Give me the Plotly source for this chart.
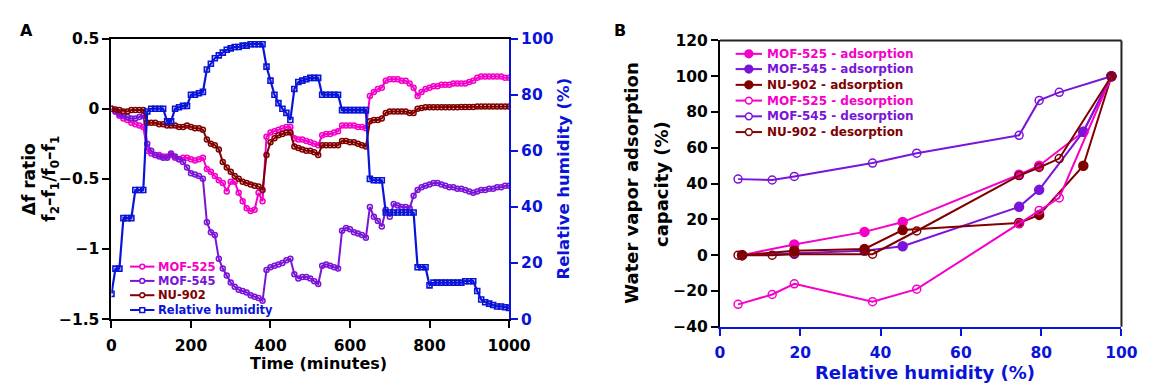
import plotly.graph_objects as go

# reference picture size (used to convert reference pixel positions into paper fractions)
W, H = 1163, 392

# ---------------- Panel A data (10-minute sampling) ----------------
time_min = list(range(0, 1001, 10))

mof525_ratio = [
    0, -0.02, -0.05, -0.07, -0.08, -0.10, -0.11, -0.12, -0.13,
    -0.30, -0.32, -0.33, -0.33, -0.34, -0.34, -0.33, -0.35, -0.36, -0.35, -0.35, -0.36, -0.37, -0.36, -0.35,
    -0.43, -0.45, -0.48, -0.51, -0.53, -0.59, -0.52, -0.52, -0.60, -0.66, -0.71, -0.73, -0.72, -0.60, -0.66,
    -0.20, -0.17, -0.16, -0.15, -0.14, -0.13, -0.13,
    -0.21, -0.22, -0.22, -0.23, -0.24, -0.25, -0.26,
    -0.19, -0.18, -0.18, -0.17, -0.16,
    -0.12, -0.12, -0.12, -0.12, -0.13, -0.13, -0.14,
    0.09, 0.12, 0.14, 0.15,
    0.20, 0.21, 0.21, 0.21, 0.20, 0.20, 0.18, 0.15,
    0.09, 0.12, 0.14, 0.15, 0.16, 0.16, 0.17, 0.17, 0.17, 0.18, 0.18, 0.18, 0.18, 0.19, 0.20, 0.22,
    0.23, 0.23, 0.23, 0.23, 0.23, 0.23, 0.22, 0.22,
]

mof545_ratio = [
    0, -0.02, -0.04, -0.05, -0.06, -0.07, -0.07, -0.06, -0.05,
    -0.25, -0.30, -0.33, -0.34, -0.35, -0.35, -0.32, -0.34, -0.36, -0.38, -0.42, -0.46, -0.47, -0.48, -0.50,
    -0.81, -0.88, -0.90, -1.07, -1.14, -1.19, -1.24, -1.27, -1.29, -1.30, -1.31, -1.33, -1.34, -1.35, -1.37,
    -1.15, -1.13, -1.12, -1.11, -1.10, -1.08, -1.07,
    -1.18, -1.21, -1.20, -1.20, -1.21, -1.23, -1.25,
    -1.12, -1.11, -1.12, -1.13, -1.14,
    -0.87, -0.85, -0.86, -0.88, -0.89, -0.90, -0.92,
    -0.70, -0.77, -0.80, -0.84,
    -0.72, -0.77, -0.68, -0.69, -0.70, -0.70, -0.71, -0.62,
    -0.58, -0.56, -0.55, -0.54, -0.53, -0.53, -0.54, -0.55, -0.56, -0.56, -0.57, -0.57, -0.58, -0.59, -0.60, -0.59,
    -0.58, -0.58, -0.57, -0.57, -0.56, -0.56, -0.55, -0.55,
]

nu902_ratio = [
    0, -0.005, -0.01, -0.02, -0.02, -0.01, -0.01, -0.01, -0.01,
    -0.10, -0.10, -0.10, -0.11, -0.11, -0.12, -0.12, -0.12, -0.13, -0.13, -0.12, -0.13, -0.14, -0.14, -0.15,
    -0.22, -0.25, -0.26, -0.29, -0.38, -0.42, -0.45, -0.48, -0.50, -0.52, -0.53, -0.54, -0.55, -0.555, -0.58,
    -0.33, -0.24, -0.21, -0.19, -0.18, -0.17, -0.17,
    -0.27, -0.28, -0.29, -0.30, -0.30, -0.31, -0.33,
    -0.26, -0.26, -0.26, -0.26, -0.26,
    -0.23, -0.23, -0.24, -0.24, -0.25, -0.26, -0.27,
    -0.09, -0.08, -0.08, -0.07,
    -0.03, -0.02, -0.02, -0.02, -0.02, -0.02, -0.03, -0.03,
    0.0, 0.005, 0.01, 0.01, 0.01, 0.01, 0.01, 0.01, 0.01, 0.01, 0.01, 0.012, 0.012, 0.012, 0.012, 0.015,
    0.015, 0.015, 0.015, 0.015, 0.015, 0.015, 0.015, 0.015,
]

rh_percent = [
    9, 18, 18, 36, 36, 36, 46, 46, 46,
    74, 75, 75, 75, 75, 70.5, 70.5, 75, 75.5, 76, 76,
    80, 80, 80.5, 81,
    89, 91, 93, 94, 95, 96, 96.5, 97, 97, 97.5, 97.5, 98, 98, 98, 98,
    90, 85, 80, 77, 75, 73.5, 71,
    82, 84.5, 85, 85.5, 86, 86, 86,
    80, 80, 80, 80, 80,
    74.5, 74.5, 74.5, 74.5, 74.5, 74.5, 74.5,
    50, 49.5, 49.5, 49.5,
    38, 38, 38, 38, 38, 38, 38, 38,
    18.5, 18.5, 18.5,
    12, 13, 13, 13, 13, 13, 13, 13, 13, 13.5, 13.5, 13.5,
    10, 7, 6, 5.5, 5, 4.5, 4.5, 4.2, 4,
]

# ---------------- Panel B data ----------------
rh_ads = [5.5, 18.5, 36, 45.5, 74.5, 79.5, 90.5, 97.5]
rh_des = [4.5, 13, 18.5, 38, 49, 74.5, 79.5, 84.5, 97.5]
mof525_ads = [0, 6, 13, 18.5, 45, 50, 69, 100]
mof545_ads = [0, 1, 2.5, 5, 27, 36.5, 69, 100]
nu902_ads = [0, 2.5, 3.5, 14, 18, 22.5, 50, 100]
mof525_des = [-27.5, -22, -16, -26, -19, 17.5, 25, 32, 100]
mof545_des = [42.5, 42, 44, 51.5, 57, 67, 86.5, 91, 100]
nu902_des = [0, 0, 0.5, 0.5, 13.5, 44.5, 49, 54, 100]

legend_a_labels = ["MOF-525", "MOF-545", "NU-902", "Relative humidity"]
legend_b_labels = ["MOF-525 - adsorption", "MOF-545 - adsorption", "NU-902 - adsorption",
                   "MOF-525 - desorption", "MOF-545 - desorption", "NU-902 - desorption"]

PINK = "#F500C8"
PURPLE = "#7A14D8"
BROWN = "#800000"
BLUE = "#0A14D8"
FONT = "DejaVu Sans"

fig = go.Figure()

# Panel A traces
for vals, col in [(mof525_ratio, PINK), (mof545_ratio, PURPLE), (nu902_ratio, BROWN)]:
    fig.add_trace(go.Scatter(
        x=time_min, y=vals, xaxis="x", yaxis="y", mode="lines+markers", showlegend=False,
        line=dict(color=col, width=2),
        marker=dict(symbol="circle-open", size=5, color=col, line=dict(width=1.5)),
    ))
fig.add_trace(go.Scatter(
    x=time_min, y=rh_percent, xaxis="x", yaxis="y2", mode="lines+markers", showlegend=False,
    line=dict(color=BLUE, width=2.2),
    marker=dict(symbol="square-open", size=5, color=BLUE, line=dict(width=1.6)),
))

# Panel B traces
panel_b = [
    (rh_ads, mof525_ads, PINK, True),
    (rh_ads, mof545_ads, PURPLE, True),
    (rh_ads, nu902_ads, BROWN, True),
    (rh_des, mof525_des, PINK, False),
    (rh_des, mof545_des, PURPLE, False),
    (rh_des, nu902_des, BROWN, False),
]
for xs, ys, col, filled in panel_b:
    fig.add_trace(go.Scatter(
        x=xs, y=ys, xaxis="x2", yaxis="y3", mode="lines+markers", showlegend=False,
        line=dict(color=col, width=2),
        marker=dict(symbol="circle" if filled else "circle-open", size=9 if filled else 8,
                    color=col, line=dict(width=1.5, color=col)),
    ))

tickfont = dict(family=FONT, size=15.5, color="black", weight="bold")
bluefont = dict(family=FONT, size=15.5, color=BLUE, weight="bold")


def px_x(p):
    return p / W


def px_y(p):
    return 1 - p / H


common = dict(showgrid=False, zeroline=False, showline=True, linewidth=2,
              ticks="outside", ticklen=7, tickwidth=2)

shapes = [
    dict(type="line", xref="x2 domain", yref="y3 domain", x0=0, x1=1, y0=1, y1=1,
         line=dict(color="#222222", width=2)),
    dict(type="line", xref="x2 domain", yref="y3 domain", x0=1, x1=1, y0=0, y1=1,
         line=dict(color="#222222", width=2)),
]

fig.update_layout(
    autosize=True, margin=dict(l=0, r=0, t=0, b=0),
    plot_bgcolor="white", paper_bgcolor="white", showlegend=False,
    xaxis=dict(domain=[px_x(109), px_x(516)], range=[0, 1000], anchor="y",
               tickvals=[0, 200, 400, 600, 800, 1000], linecolor="black", tickcolor="black",
               mirror=True, tickfont=tickfont, ticklabelstandoff=4, **common),
    yaxis=dict(domain=[px_y(325), px_y(31)], range=[-1.5, 0.5], anchor="x",
               tickvals=[-1.5, -1, -0.5, 0, 0.5], ticktext=["\u22121.5", "\u22121", "\u22120.5", "0", "0.5"],
               linecolor="black", tickcolor="black", tickfont=tickfont, **common),
    yaxis2=dict(overlaying="y", side="right", anchor="x", range=[0, 100],
                tickvals=[0, 20, 40, 60, 80, 100], linecolor=BLUE, tickcolor=BLUE,
                tickfont=bluefont, **common),
    xaxis2=dict(domain=[px_x(732), px_x(1143)], range=[0, 100], anchor="y3",
                tickvals=[0, 20, 40, 60, 80, 100], linecolor=BLUE, tickcolor=BLUE,
                tickfont=bluefont, ticklabelstandoff=4, **common),
    yaxis3=dict(domain=[px_y(333), px_y(33)], range=[-40, 120], anchor="x2",
                tickvals=list(range(-40, 121, 20)),
                ticktext=["\u221240", "\u221220", "0", "20", "40", "60", "80", "100", "120"],
                linecolor="black", tickcolor="black", tickfont=tickfont, **common),
)


def ann(text, xp, yp, size, color="black", angle=0, xanchor="center"):
    fig.add_annotation(text=text, x=px_x(xp), y=px_y(yp), xref="paper", yref="paper",
                       showarrow=False, textangle=angle, xanchor=xanchor, yanchor="middle",
                       font=dict(family=FONT, size=size, color=color, weight="bold"))


# ---- custom legends (layout decoration) ----
def legend_item(x0, x1, yc, tx, label, col, symbol, filled, r, fsize):
    shapes.append(dict(type="line", xref="paper", yref="paper",
                       x0=px_x(x0), x1=px_x(x1), y0=px_y(yc), y1=px_y(yc),
                       line=dict(color=col, width=2)))
    cx = (x0 + x1) / 2
    shapes.append(dict(type="circle" if symbol == "circle" else "rect", xref="paper", yref="paper",
                       x0=px_x(cx - r), x1=px_x(cx + r), y0=px_y(yc + r), y1=px_y(yc - r),
                       fillcolor=col if filled else "white", line=dict(color=col, width=1.5)))
    ann(label, tx, yc, fsize, color=col, xanchor="left")


leg_a_cols = [PINK, PURPLE, BROWN, BLUE]
leg_a_syms = ["circle", "circle", "circle", "square"]
leg_a_y = [270, 285, 300, 315.5]
for lab, col, sym, yc in zip(legend_a_labels, leg_a_cols, leg_a_syms, leg_a_y):
    legend_item(128, 153, yc, 155, lab, col, sym, False, 2.5, 11.5)

leg_b_cols = [PINK, PURPLE, BROWN, PINK, PURPLE, BROWN]
leg_b_fill = [True, True, True, False, False, False]
leg_b_y = [47, 63, 79.5, 96, 112.5, 129]
for lab, col, fl, yc in zip(legend_b_labels, leg_b_cols, leg_b_fill, leg_b_y):
    legend_item(748, 775, yc, 778, lab, col, "circle", fl, 4 if fl else 3.5, 12)

fig.update_layout(shapes=shapes)

ann("A", 22, 23, 16)
ann("B", 630, 23, 16)
ann("\u0394f ratio", 24, 178, 17, angle=-90)
ann("f<sub>2</sub>\u2013f<sub>1</sub>/f<sub>0</sub>\u2013f<sub>1</sub>", 47, 178, 17, angle=-90)
ann("Time (minutes)", 321, 372, 16)
ann("Relative humidity (%)", 572, 178, 16.5, color=BLUE, angle=-90)
ann("Water vapor adsorption", 642, 183, 18, angle=-90)
ann("capacity (%)", 672, 183, 18, angle=-90)
ann("Relative humidity (%)", 942, 381, 18, color=BLUE)

fig.write_html(
    "out.html",
    default_width="100vw",
    default_height="100vh",
    config={"responsive": True},
    post_script="document.documentElement.style.overflow='hidden';"
                "document.body.style.margin='0';document.body.style.padding='0';"
                "document.body.style.overflow='hidden';"
                "Plotly.Plots.resize(document.getElementById('{plot_id}'));",
)
